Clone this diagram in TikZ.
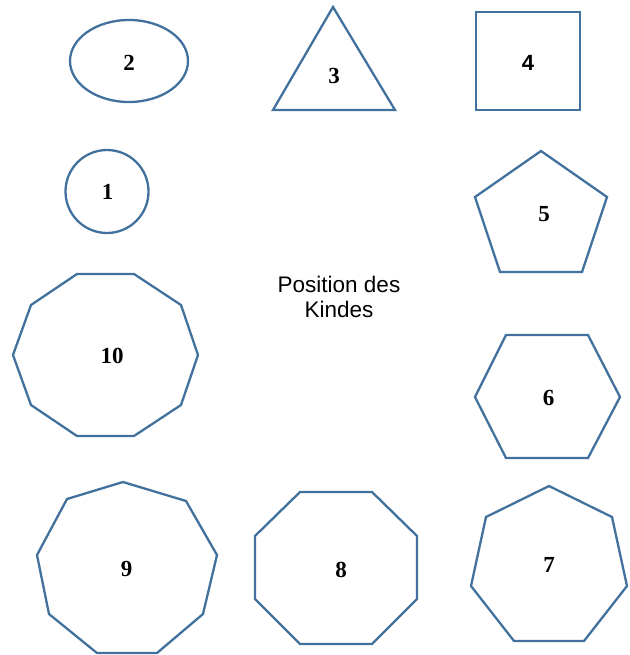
\documentclass[tikz,border=0pt]{standalone}
\usepackage{fontspec}
\setmainfont{Liberation Serif}
\setsansfont{Liberation Sans}
\definecolor{shapeblue}{RGB}{65,113,156}
\tikzset{
	shapeline/.style={draw=shapeblue, line width=2.3pt, line join=miter},
	numlabel/.style={font=\fontsize{23}{25}\selectfont\bfseries, inner sep=0pt},
	poslabel/.style={font=\sffamily\fontsize{22.5}{25}\selectfont, align=center, inner sep=0pt}
}

\begin{document}
\begin{tikzpicture}[x=1pt,y=-1pt]
	\useasboundingbox (0,0) rectangle (629,655); % page frame
	%Top row: ellipse, triangle, square
	\draw[shapeline] (129,61) ellipse [x radius=59pt, y radius=41pt];
	\node[numlabel] (n2) at (129,63) {2};
	\draw[shapeline] (333,7) -- (395,110) -- (273,110) -- cycle;
	\node[numlabel] (n3) at (334,76) {3};
	\draw[shapeline] (476,12) rectangle (580,110);
	\node[numlabel, font=\sffamily\fontsize{22}{24}\selectfont\bfseries] (n4) at (528,63) {4};
	%Second row: circle and pentagon
	\draw[shapeline] (107,191.5) circle [radius=41.5pt];
	\node[numlabel] (n1) at (107.5,191.5) {1};
	\draw[shapeline] (541,151) -- (607,197) -- (582,272) -- (500,272) -- (475,197) -- cycle;
	\node[numlabel] (n5) at (544,214.5) {5};
	%Middle: decagon, text, hexagon
	\draw[shapeline] (77,274) -- (134,274) -- (181,305) -- (198,355) -- (181,405) -- (134,436)
		-- (77,436) -- (31,405) -- (13,355) -- (31,305) -- cycle; % decagon
	\node[numlabel] (n10) at (112,356) {10};
	\node[poslabel] (kind) at (339,297) {Position des\\Kindes};
	\draw[shapeline] (506,335) -- (588,335) -- (620,397) -- (588,458) -- (506,458) -- (475,397) -- cycle; % hexagon
	\node[numlabel] (n6) at (548.5,397.5) {6};
	%Bottom row: nonagon, octagon, heptagon
	\draw[shapeline] (123,482) -- (186,501) -- (217,555) -- (203,614) -- (157,653) -- (97,653)
		-- (49,614) -- (37,555) -- (67,499) -- cycle; % nonagon
	\node[numlabel] (n9) at (126.5,569) {9};
	\draw[shapeline] (300,492) -- (372,492) -- (417,536) -- (417,599) -- (372,644) -- (300,644)
		-- (255,599) -- (255,536) -- cycle; % octagon
	\node[numlabel] (n8) at (341,570) {8};
	\draw[shapeline] (549,486) -- (612,517) -- (627,586) -- (584,641) -- (514,641) -- (471,586)
		-- (486,517) -- cycle; % heptagon
	\node[numlabel] (n7) at (549,565) {7};
\end{tikzpicture}
\end{document}
